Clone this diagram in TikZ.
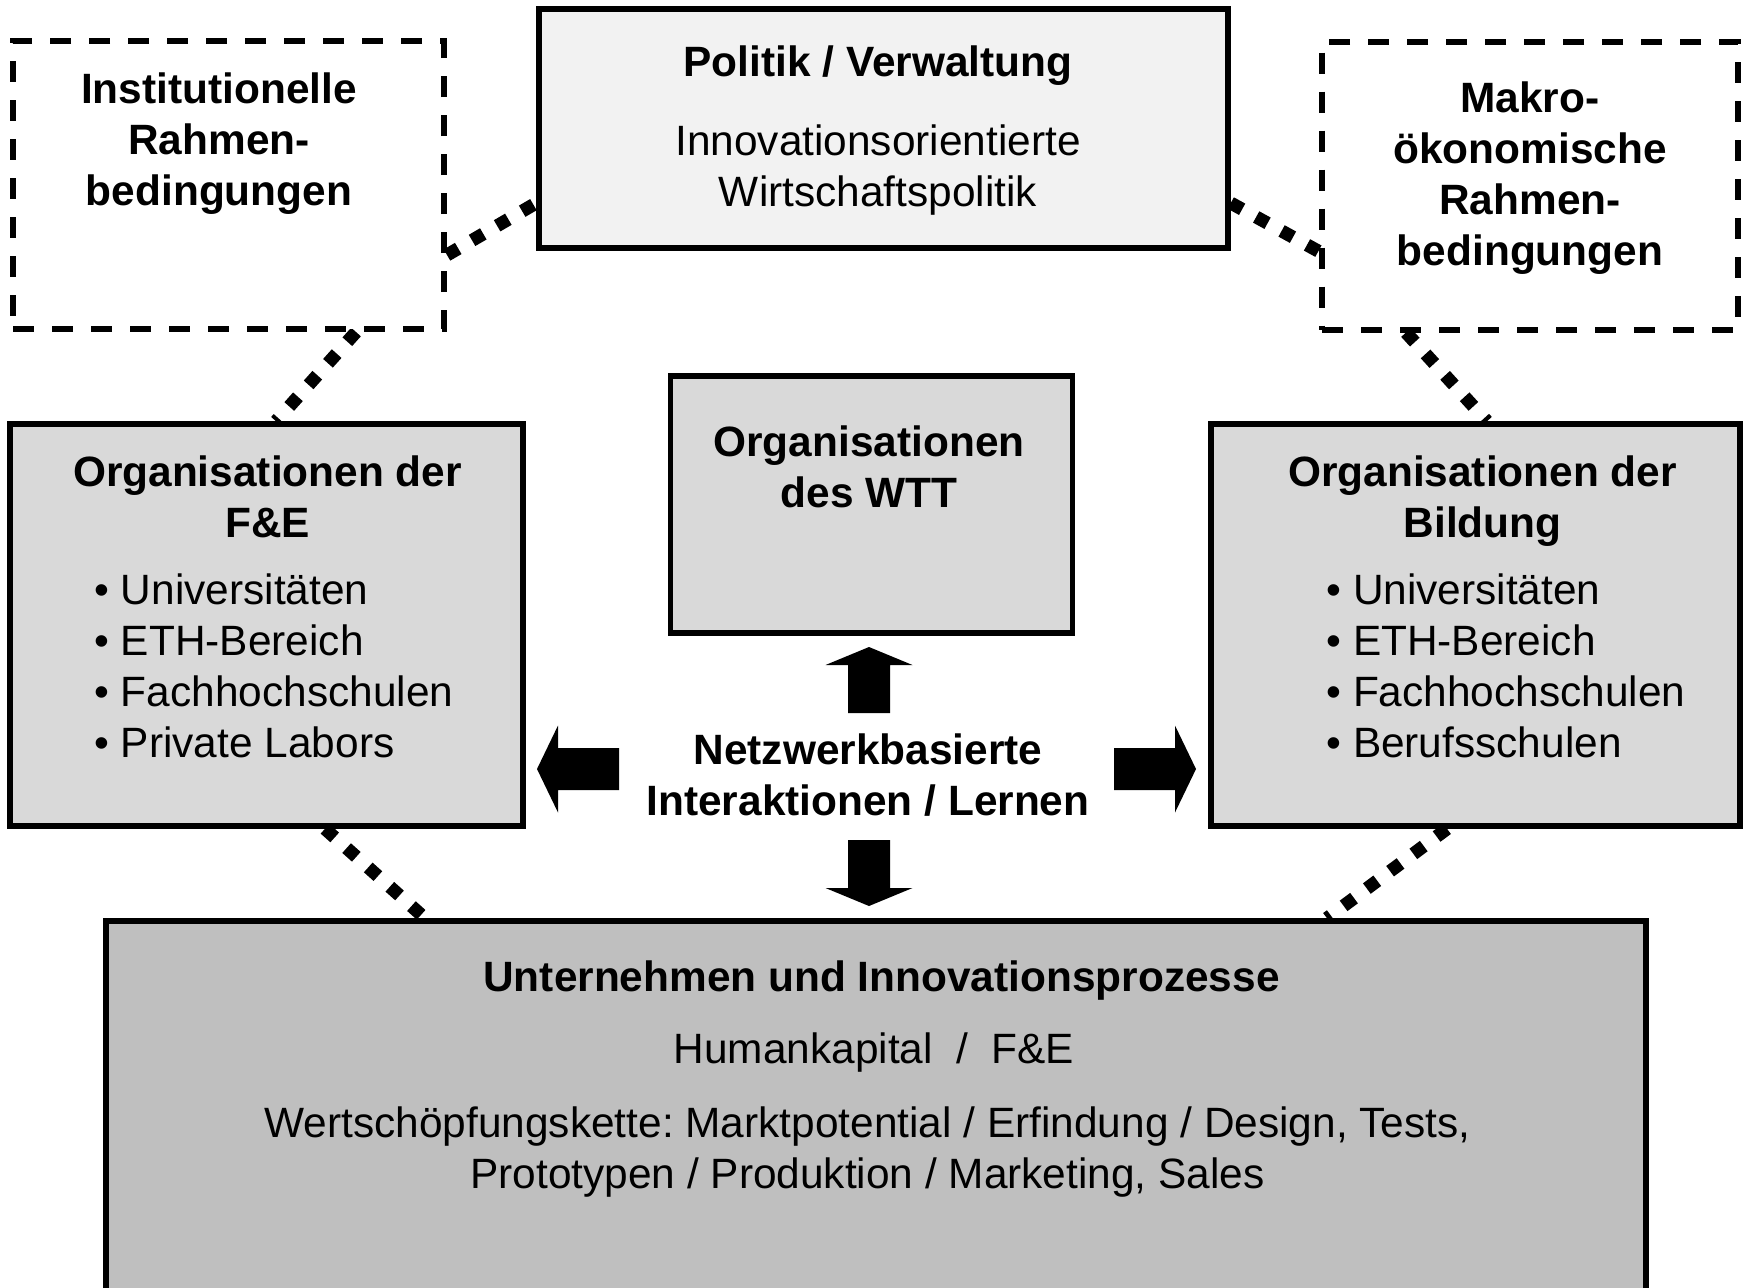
\documentclass[tikz,border=0pt]{standalone}
\usepackage{fontspec}
\setmainfont{Liberation Sans}
\usetikzlibrary{calc,backgrounds}

\definecolor{hell}{HTML}{F2F2F2}
\definecolor{mittel}{HTML}{D9D9D9}
\definecolor{dunkel}{HTML}{BFBFBF}

\begin{document}
\frenchspacing
\begin{tikzpicture}[x=0.5pt,y=-0.5pt,
    kasten/.style={draw,line width=2.75pt,inner sep=0pt},
    rahmen/.style={draw,line width=3pt,dash pattern=on 10.5pt off 9pt,fill=white,inner sep=0pt},
    punkte/.style={line width=6.5pt,dash pattern=on 6.5pt off 8pt},
    txt/.style={inner sep=0pt,align=center,font=\fontsize{21.2pt}{25.5pt}\selectfont},
    fett/.style={txt,font=\fontsize{21.2pt}{25.5pt}\selectfont\bfseries}]
        \useasboundingbox (0,0) rectangle (1750,1287);
        \clip (0,0) rectangle (1750,1287);

        % Kaesten
        \node[rahmen,minimum width=215.5pt,minimum height=144pt] (inst) at (228.5,185) {};
        \node[kasten,fill=hell,minimum width=344.5pt,minimum height=119.5pt] (politik) at (883.5,128.5) {};
        \node[rahmen,minimum width=208pt,minimum height=144pt] (makro) at (1530,185.5) {};
        \node[kasten,fill=mittel,minimum width=201pt,minimum height=128.5pt] (wtt) at (871.5,504.5) {};
        \node[kasten,fill=mittel,minimum width=256.5pt,minimum height=201pt] (fue) at (266.5,625) {};
        \node[kasten,fill=mittel,minimum width=264.5pt,minimum height=201pt] (bildung) at (1475.5,625) {};
        \node[kasten,fill=dunkel,minimum width=770pt,minimum height=199.5pt] (unt) at (876,1120.5) {};

        % punktierte Verbindungen
        \begin{scope}[on background layer]
            \draw[punkte] ($(inst.east)+(0,70)$) -- ($(politik.west)+(0,74.5)$);
            \draw[punkte] ($(politik.east)+(0,74.5)$) -- ($(makro.west)+(0,66)$);
            \draw[punkte] ($(inst.south)+(127.5,0)$) -- ($(fue.north)+(9.5,0)$);
            \draw[punkte] ($(makro.south)+(-124,0)$) -- ($(bildung.north)+(11.5,0)$);
            \draw[punkte] ($(fue.south)+(58.5,0)$) -- ($(unt.north)+(-451,0)$);
            \draw[punkte] ($(bildung.south)+(-28.5,0)$) -- ($(unt.north)+(451,0)$);
        \end{scope}

        % Texte
        \node[fett] (insttxt) at (219,144) {Institutionelle\\Rahmen-\\bedingungen};
        \node[txt] (politiktxt) at (878,130.5) {{\bfseries Politik / Verwaltung}\\[14pt]Innovationsorientierte\\Wirtschaftspolitik};
        \node[fett] (makrotxt) at (1530,178) {Makro-\\ökonomische\\Rahmen-\\bedingungen};
        \node[fett] (wtttxt) at (869,466.5) {Organisationen\\des WTT};
        \node[fett] (fuetxt) at (267.5,496.5) {Organisationen der\\F\&E};
        \node[txt,align=left,anchor=west] (fueliste) at (94,666) {• Universitäten\\• ETH-Bereich\\• Fachhochschulen\\• Private Labors};
        \node[fett] (bildungtxt) at (1482.5,501) {Organisationen der\\Bildung};
        \node[txt,align=left,anchor=west] (bildungliste) at (1326,666) {• Universitäten\\• ETH-Bereich\\• Fachhochschulen\\• Berufsschulen};
        \node[fett] (netz) at (868,775.5) {Netzwerkbasierte\\Interaktionen / Lernen};
        \node[fett,anchor=base] (untkopf) at (881.5,991.7) {Unternehmen und Innovationsprozesse};
        \node[txt,anchor=base] (untkapital) at (874,1063) {Humankapital\ \ /\ \ F\&E};
        \node[txt] (untkette) at (867.5,1152) {Wertschöpfungskette: Marktpotential / Erfindung / Design, Tests,\\Prototypen / Produktion / Marketing, Sales};

        % Blockpfeile
        \fill (848,713) -- (848,665) -- (825.5,665) -- (869,647) -- (912.5,665) -- (890,665) -- (890,713) -- cycle;
        \fill (848,840) -- (848,888) -- (825.5,888) -- (869,906) -- (912.5,888) -- (890,888) -- (890,840) -- cycle;
        \fill (619,748) -- (558,748) -- (558,725.5) -- (537,769) -- (558,812.5) -- (558,790) -- (619,790) -- cycle;
        \fill (1114,748) -- (1175,748) -- (1175,725.5) -- (1196,769) -- (1175,812.5) -- (1175,790) -- (1114,790) -- cycle;
    \end{tikzpicture}
\end{document}
